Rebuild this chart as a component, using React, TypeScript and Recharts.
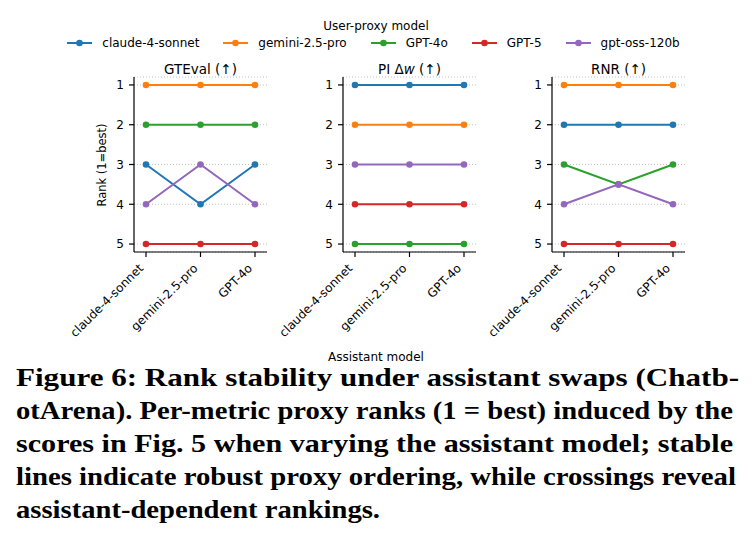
import React from 'react';
import { LineChart, Line, XAxis, YAxis, CartesianGrid } from 'recharts';

const ASSISTANTS = ['claude-4-sonnet', 'gemini-2.5-pro', 'GPT-4o'];
const PROXIES = ['claude-4-sonnet', 'gemini-2.5-pro', 'GPT-4o', 'GPT-5', 'gpt-oss-120b'];
const COLORS = ['#1f77b4', '#ff7f0e', '#2ca02c', '#d62728', '#9467bd'];
const RANK_TICKS = [1, 2, 3, 4, 5];

// one row per proxy model, one value per assistant model
const GTEVAL_RANKS = [
  [3, 4, 3],
  [1, 1, 1],
  [2, 2, 2],
  [5, 5, 5],
  [4, 3, 4],
];
const PI_DW_RANKS = [
  [1, 1, 1],
  [2, 2, 2],
  [5, 5, 5],
  [4, 4, 4],
  [3, 3, 3],
];
const RNR_RANKS = [
  [2, 2, 2],
  [1, 1, 1],
  [3, 3.5, 3],
  [5, 5, 5],
  [4, 3.5, 4],
];

const CAPTION_LINES = [
  'Figure 6: Rank stability under assistant swaps (Chatb-',
  'otArena). Per-metric proxy ranks (1 = best) induced by the',
  'scores in Fig. 5 when varying the assistant model; stable',
  'lines indicate robust proxy ordering, while crossings reveal',
  'assistant-dependent rankings.',
];
const CAPTION_WIDTHS = [723, 717, 717, 720, 364];

const FONT = 'DejaVu Sans';

const toRows = (ranks: number[][]) =>
  ASSISTANTS.map((a, i) => {
    const row: any = { assistant: a };
    PROXIES.forEach((_, j) => {
      row[`s${j}`] = ranks[j][i];
    });
    return row;
  });

const AssistantTick = (props: any) => {
  const { x, y, payload } = props;
  const bx = x - 2;
  const by = y + 12;
  return (
    <text
      x={bx}
      y={by}
      transform={`rotate(-45, ${bx}, ${by})`}
      textAnchor="end"
      fontSize={12}
      fontFamily={FONT}
      fill="#000"
    >
      {payload.value}
    </text>
  );
};

function RankPanel({ left, ranks }: { left: number; ranks: number[][] }) {
  const data = toRows(ranks);
  return (
    <div style={{ position: 'absolute', left, top: 0 }}>
      <LineChart width={253} height={360} data={data} margin={{ top: 77, right: 20, bottom: 18, left: 60 }}>
        <CartesianGrid vertical={false} stroke="#b0b0b0" strokeDasharray="1 2" strokeOpacity={0.8} />
        <XAxis
          dataKey="assistant"
          scale="point"
          padding={{ left: 12, right: 12 }}
          interval={0}
          height={90}
          tickSize={5}
          tickMargin={0}
          axisLine={{ stroke: '#000', strokeWidth: 1.2 }}
          tickLine={{ stroke: '#000', strokeWidth: 1.2 }}
          tick={(p: any) => <AssistantTick {...p} />}
        />
        <YAxis
          type="number"
          domain={[0.8, 5.2]}
          reversed
          allowDataOverflow
          ticks={RANK_TICKS}
          interval={0}
          width={40}
          tickSize={5}
          tickMargin={5}
          axisLine={{ stroke: '#000', strokeWidth: 1.2 }}
          tickLine={{ stroke: '#000', strokeWidth: 1.2 }}
          tick={{ fontSize: 12, fill: '#000', fontFamily: FONT }}
        />
        {PROXIES.map((p, j) => (
          <Line
            key={p}
            type="linear"
            dataKey={`s${j}`}
            name={p}
            stroke={COLORS[j]}
            strokeWidth={2}
            dot={{ r: 3.3, fill: COLORS[j], stroke: COLORS[j], strokeWidth: 0 }}
            activeDot={false}
            isAnimationActive={false}
          />
        ))}
      </LineChart>
    </div>
  );
}

export default function App() {
  return (
    <div
      style={{
        position: 'absolute',
        left: 0,
        top: 0,
        width: 756,
        height: 533,
        background: '#fff',
        overflow: 'hidden',
        fontFamily: FONT,
        color: '#000',
      }}
    >
      {/* legend */}
      <div style={{ position: 'absolute', left: 0, top: 19, width: 752, textAlign: 'center', fontSize: 12, lineHeight: '14px' }}>
        User-proxy model
      </div>
      <div
        style={{
          position: 'absolute',
          left: 0,
          top: 36,
          width: 747,
          display: 'flex',
          justifyContent: 'center',
          gap: 24,
          fontSize: 12,
          lineHeight: '14px',
        }}
      >
        {PROXIES.map((p, j) => (
          <div key={p} style={{ display: 'flex', alignItems: 'center' }}>
            <svg width={25} height={14}>
              <line x1={0} x2={25} y1={7} y2={7} stroke={COLORS[j]} strokeWidth={2} />
              <circle cx={12.5} cy={7} r={3.3} fill={COLORS[j]} />
            </svg>
            <span style={{ marginLeft: 10 }}>{p}</span>
          </div>
        ))}
      </div>

      <RankPanel left={34} ranks={GTEVAL_RANKS} />
      <RankPanel left={243} ranks={PI_DW_RANKS} />
      <RankPanel left={452} ranks={RNR_RANKS} />

      <svg width={756} height={533} style={{ position: 'absolute', left: 0, top: 0, pointerEvents: 'none' }}>
        <g style={{ fontFamily: FONT, fontSize: 13.5 }} textAnchor="middle" fill="#000">
          <text x={200.5} y={74}>GTEval (↑)</text>
          <text x={409.5} y={74}>
            PI Δ<tspan fontStyle="italic">w</tspan> (↑)
          </text>
          <text x={618.5} y={74}>RNR (↑)</text>
        </g>
        <text x={106} y={165} transform="rotate(-90, 106, 165)" textAnchor="middle" style={{ fontFamily: FONT, fontSize: 11.5 }}>
          Rank (1=best)
        </text>
        <text x={376} y={361} textAnchor="middle" style={{ fontFamily: FONT, fontSize: 12 }}>
          Assistant model
        </text>
        <g style={{ fontFamily: '"Liberation Serif", "Times New Roman", serif', fontWeight: 700, fontSize: 25 }} fill="#000">
          {CAPTION_LINES.map((line, i) => (
            <text key={i} x={16} y={386 + i * 33} textLength={CAPTION_WIDTHS[i]} lengthAdjust="spacingAndGlyphs">
              {line}
            </text>
          ))}
        </g>
      </svg>
    </div>
  );
}
